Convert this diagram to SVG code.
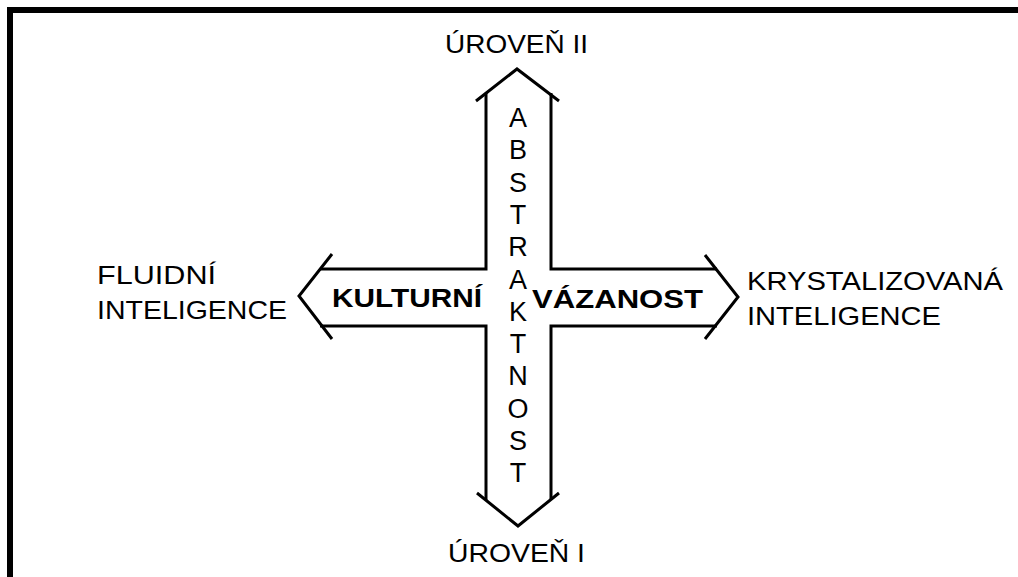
<svg xmlns="http://www.w3.org/2000/svg" width="1018" height="577" viewBox="0 0 1018 577">
  <style>
    .frame { fill: none; stroke: #000; stroke-width: 6; stroke-linejoin: miter; }
    .arrow { fill: none; stroke: #000; stroke-width: 3; stroke-linejoin: miter; stroke-linecap: butt; }
    .lbl { font-family: "Liberation Sans", Arial, Helvetica, sans-serif; font-size: 26px; fill: #000; }
    .bold { font-weight: bold; font-size: 25px; }
    .mid { text-anchor: middle; }
    .vert { font-size: 27px; }
  </style>
  <rect width="1018" height="577" fill="#fff"/>
  <path class="frame" d="M10,577 V10 H1018"/>

  <g id="connectors">
    <!-- shaft outline of the cross -->
    <path class="arrow" d="M486,93 V269 H320 M551,93 V269 H717 M486,500 V326 H320 M551,500 V326 H717"/>
    <!-- arrowheads -->
    <polyline class="arrow" points="476,101 517,69 559,101"/>
    <polyline class="arrow" points="477,493 518,526 559,493"/>
    <polyline class="arrow" points="332,254 299,296 332,339"/>
    <polyline class="arrow" points="705,255 738,297 705,339"/>
  </g>

  <g id="node-uroven-2">
    <text class="lbl" x="445" y="53" textLength="143" lengthAdjust="spacingAndGlyphs">ÚROVEŇ II</text>
  </g>
  <g id="node-uroven-1">
    <text class="lbl" x="448" y="562" textLength="137" lengthAdjust="spacingAndGlyphs">ÚROVEŇ I</text>
  </g>
  <g id="node-fluidni">
    <text class="lbl" x="97" y="284" textLength="119" lengthAdjust="spacingAndGlyphs">FLUIDNÍ</text>
    <text class="lbl" x="97" y="319" textLength="190" lengthAdjust="spacingAndGlyphs">INTELIGENCE</text>
  </g>
  <g id="node-krystalizovana">
    <text class="lbl" x="747" y="290" textLength="256" lengthAdjust="spacingAndGlyphs">KRYSTALIZOVANÁ</text>
    <text class="lbl" x="747" y="325" textLength="194" lengthAdjust="spacingAndGlyphs">INTELIGENCE</text>
  </g>
  <g id="node-kulturni">
    <text class="lbl bold" x="332" y="307" textLength="150" lengthAdjust="spacingAndGlyphs">KULTURNÍ</text>
  </g>
  <g id="node-vazanost">
    <text class="lbl bold" x="532" y="308" textLength="171" lengthAdjust="spacingAndGlyphs">VÁZANOST</text>
  </g>
  <g id="node-abstraktnost">
    <text class="lbl mid vert" x="518" y="127">A</text>
    <text class="lbl mid vert" x="518" y="159">B</text>
    <text class="lbl mid vert" x="518" y="192">S</text>
    <text class="lbl mid vert" x="518" y="224">T</text>
    <text class="lbl mid vert" x="518" y="256">R</text>
    <text class="lbl mid vert" x="518" y="289">A</text>
    <text class="lbl mid vert" x="518" y="321">K</text>
    <text class="lbl mid vert" x="518" y="353">T</text>
    <text class="lbl mid vert" x="518" y="385">N</text>
    <text class="lbl mid vert" x="518" y="418">O</text>
    <text class="lbl mid vert" x="518" y="450">S</text>
    <text class="lbl mid vert" x="518" y="482">T</text>
  </g>
</svg>
